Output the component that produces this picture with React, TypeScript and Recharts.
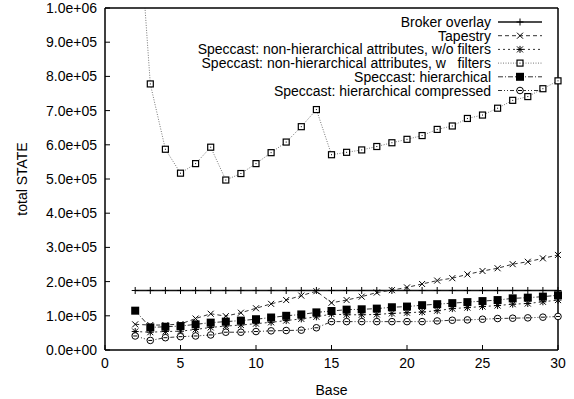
import React from "react";
import { LineChart, Line, XAxis, YAxis, Legend } from "recharts";

const base = [2, 3, 4, 5, 6, 7, 8, 9, 10, 11, 12, 13, 14, 15, 16, 17, 18, 19, 20, 21, 22, 23, 24, 25, 26, 27, 28, 29, 30];

const brokerOverlay = [174000, 174000, 174000, 174000, 174000, 174000, 174000, 174000, 174000, 174000, 174000, 174000, 174000, 174000, 174000, 174000, 174000, 174000, 174000, 174000, 174000, 174000, 174000, 174000, 174000, 174000, 174000, 174000, 174000];
const tapestry = [75000, 73000, 73000, 76000, 92000, 106000, 99000, 109000, 122000, 135000, 146000, 159000, 172000, 138000, 146000, 156000, 168000, 175000, 183000, 193000, 203000, 210000, 221000, 231000, 239000, 251000, 258000, 268000, 278000];
const nonHierNoFilters = [54000, 52000, 54000, 55000, 60000, 66000, 70000, 73000, 77000, 81000, 86000, 91000, 97000, 105000, 103000, 103000, 104000, 107000, 109000, 111000, 115000, 121000, 124000, 127000, 130000, 134000, 136000, 141000, 146000];
const nonHierFilters = [1410000, 778000, 587000, 517000, 545000, 593000, 497000, 516000, 545000, 577000, 608000, 653000, 703000, 571000, 578000, 585000, 595000, 606000, 616000, 627000, 645000, 655000, 677000, 687000, 707000, 730000, 741000, 764000, 787000];
const hierarchical = [115000, 66000, 68000, 70000, 75000, 80000, 83000, 86000, 90000, 95000, 100000, 104000, 110000, 114000, 118000, 119000, 121000, 125000, 127000, 131000, 134000, 137000, 140000, 143000, 146000, 151000, 153000, 156000, 160000];
const hierCompressed = [41000, 28000, 36000, 39000, 41000, 44000, 52000, 52000, 54000, 56000, 57000, 58000, 65000, 83000, 83000, 83000, 83000, 83000, 83000, 83000, 85000, 87000, 88000, 90000, 92000, 93000, 94000, 96000, 98000];

const xTicks = [0, 5, 10, 15, 20, 25, 30];
const yTicks = [0, 100000, 200000, 300000, 400000, 500000, 600000, 700000, 800000, 900000, 1000000];

const rows = base.map((b, i) => ({
  base: b,
  broker: brokerOverlay[i],
  tapestry: tapestry[i],
  noFilters: nonHierNoFilters[i],
  filters: nonHierFilters[i],
  hier: hierarchical[i],
  compressed: hierCompressed[i],
}));

type Kind = "plus" | "cross" | "star" | "openSquare" | "filledSquare" | "circle";

const series: { key: string; name: string; stroke: string; width: number; dash?: string; kind: Kind }[] = [
  { key: "broker", name: "Broker overlay", stroke: "#111", width: 1.5, kind: "plus" },
  { key: "tapestry", name: "Tapestry", stroke: "#333", width: 1, dash: "4 3", kind: "cross" },
  { key: "noFilters", name: "Speccast: non-hierarchical attributes, w/o filters", stroke: "#333", width: 1, dash: "2 3", kind: "star" },
  { key: "filters", name: "Speccast: non-hierarchical attributes, w   filters", stroke: "#777", width: 1, dash: "1 1.5", kind: "openSquare" },
  { key: "hier", name: "Speccast: hierarchical", stroke: "#333", width: 1, dash: "5 2 1 2", kind: "filledSquare" },
  { key: "compressed", name: "Speccast: hierarchical compressed", stroke: "#333", width: 1, dash: "4 2 1 2 1 2", kind: "circle" },
];

const Marker = ({ kind, cx, cy }: { kind: Kind; cx: number; cy: number }) => {
  const s = 3.5;
  switch (kind) {
    case "plus":
      return (
        <g stroke="#000" strokeWidth={1}>
          <line x1={cx - s} x2={cx + s} y1={cy} y2={cy} />
          <line x1={cx} x2={cx} y1={cy - s} y2={cy + s} />
        </g>
      );
    case "cross":
      return (
        <g stroke="#000" strokeWidth={1}>
          <line x1={cx - 3} x2={cx + 3} y1={cy - 3} y2={cy + 3} />
          <line x1={cx - 3} x2={cx + 3} y1={cy + 3} y2={cy - 3} />
        </g>
      );
    case "star":
      return (
        <g stroke="#000" strokeWidth={1}>
          <line x1={cx - 3} x2={cx + 3} y1={cy - 3} y2={cy + 3} />
          <line x1={cx - 3} x2={cx + 3} y1={cy + 3} y2={cy - 3} />
          <line x1={cx - s} x2={cx + s} y1={cy} y2={cy} />
          <line x1={cx} x2={cx} y1={cy - s} y2={cy + s} />
        </g>
      );
    case "openSquare":
      return (
        <g>
          <rect x={cx - 3} y={cy - 3} width={6} height={6} fill="#fff" stroke="#000" strokeWidth={1.2} />
          <rect x={cx - 0.5} y={cy - 0.5} width={1} height={1} fill="#000" />
        </g>
      );
    case "filledSquare":
      return <rect x={cx - 4} y={cy - 4} width={8} height={8} fill="#000" />;
    default:
      return (
        <g stroke="#000" strokeWidth={1}>
          <circle cx={cx} cy={cy} r={3.3} fill="#fff" />
          <line x1={cx - 2} x2={cx + 2} y1={cy} y2={cy} />
        </g>
      );
  }
};

const fmtExp = (v: number) => {
  const [m, e] = v.toExponential(1).split("e");
  return `${m}e${e[0]}${e.slice(1).padStart(2, "0")}`;
};

const LegendBox = () => (
  <svg width={400} height={90} style={{ overflow: "visible" }}>
    {series.map((s, i) => {
      const y = 10 + i * 13.7;
      return (
        <g key={s.key}>
          <text x={331} y={y} textAnchor="end" dominantBaseline="central" fontSize={14} fill="#000" style={{ whiteSpace: "pre" }}>
            {s.name}
          </text>
          <line x1={338} x2={382} y1={y} y2={y} stroke={s.stroke} strokeWidth={s.width} strokeDasharray={s.dash} />
          <Marker kind={s.kind} cx={360} cy={y} />
        </g>
      );
    })}
  </svg>
);

const YLabel = (props: any) => {
  const vb = props.viewBox;
  const x = vb.x + 22;
  const y = vb.y + vb.height / 2;
  return (
    <text x={x} y={y} transform={`rotate(-90 ${x} ${y})`} textAnchor="middle" dominantBaseline="central" fontSize={14} fill="#000">
      total STATE
    </text>
  );
};

const XLabel = (props: any) => {
  const vb = props.viewBox;
  return (
    <text x={vb.x + vb.width / 2} y={vb.y + 40} textAnchor="middle" dominantBaseline="central" fontSize={14} fill="#000">
      Base
    </text>
  );
};

export default function App() {
  return (
    <div style={{ position: "absolute", left: 0, top: 0, fontFamily: "'Liberation Sans', Arial, sans-serif", background: "#fff" }}>
      <LineChart width={574} height={399} data={rows} margin={{ top: 7, right: 15, left: 0, bottom: 4 }}>
        <XAxis
          dataKey="base"
          type="number"
          domain={[0, 30]}
          ticks={xTicks}
          height={45}
          tickSize={-5}
          tickMargin={13}
          stroke="#000"
          axisLine={{ stroke: "#000", strokeWidth: 1.5 }}
          tick={{ fill: "#000", fontSize: 14 }}
          label={{ content: XLabel }}
        />
        <XAxis
          xAxisId="top"
          orientation="top"
          type="number"
          domain={[0, 30]}
          ticks={xTicks}
          height={1}
          tickSize={-5}
          tick={false}
          stroke="#000"
          axisLine={{ stroke: "#000", strokeWidth: 1.5 }}
        />
        <YAxis
          type="number"
          domain={[0, 1000000]}
          ticks={yTicks}
          allowDataOverflow
          width={105}
          tickSize={-5}
          tickMargin={13}
          tickFormatter={fmtExp}
          stroke="#000"
          axisLine={{ stroke: "#000", strokeWidth: 1.5 }}
          tick={{ fill: "#000", fontSize: 14 }}
          label={{ content: YLabel }}
        />
        <YAxis
          yAxisId="right"
          orientation="right"
          type="number"
          domain={[0, 1000000]}
          ticks={yTicks}
          allowDataOverflow
          width={1}
          tickSize={-5}
          tick={false}
          stroke="#000"
          axisLine={{ stroke: "#000", strokeWidth: 1.5 }}
        />
        <Legend
          layout="vertical"
          align="center"
          verticalAlign="middle"
          wrapperStyle={{ top: 12, left: 160, width: 400 }}
          content={LegendBox}
        />
        {series.map((s) => (
          <Line
            key={s.key}
            dataKey={s.key}
            name={s.name}
            type="linear"
            stroke={s.stroke}
            strokeWidth={s.width}
            strokeDasharray={s.dash}
            isAnimationActive={false}
            activeDot={false}
            dot={(p: any) => <Marker key={`${s.key}-${p.index}`} kind={s.kind} cx={p.cx} cy={p.cy} />}
          />
        ))}
      </LineChart>
    </div>
  );
}
